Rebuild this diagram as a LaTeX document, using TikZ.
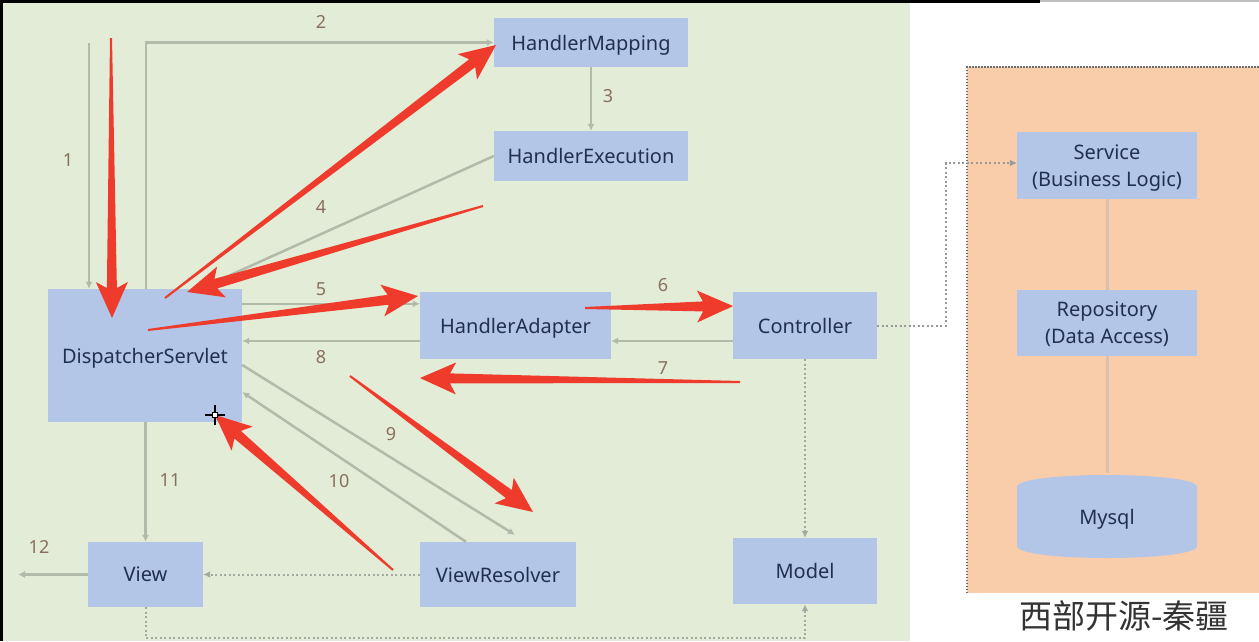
\documentclass[tikz,border=0pt]{standalone}
\usepackage{fontspec}
\setmainfont{Noto Sans}
\newfontfamily\cjk{Noto Sans CJK SC}
\usetikzlibrary{calc,arrows.meta}
\definecolor{bgG}{HTML}{E2ECD7}
\definecolor{boxB}{HTML}{B3C6E7}
\definecolor{txtB}{HTML}{22304F}
\definecolor{connG}{HTML}{B2BAAA}
\definecolor{dotG}{HTML}{A5AAA0}
\definecolor{numC}{HTML}{8A6F5E}
\definecolor{redA}{HTML}{EF3B2C}
\definecolor{orP}{HTML}{F9CCAA}
\definecolor{dotC}{HTML}{6E6E6E}
\definecolor{lineO}{HTML}{D6C2AE}
\tikzset{
  box/.style={fill=boxB, text=txtB, inner sep=0pt, font=\fontsize{20}{27}\selectfont, align=center, text depth=0pt},
  conn/.style={draw=connG, line width=2.5pt, -{Latex[length=7pt,width=7pt]}},
  dotconn/.style={draw=dotG, line width=2pt, dash pattern=on 2pt off 2.5pt, -{Latex[length=7pt,width=7pt]}},
  num/.style={text=numC, font=\fontsize{18}{20}\selectfont, inner sep=0pt},
}
\newcommand\redarrow[2]{%
  \coordinate (rB) at ($(#2)!30pt!(#1)$);
  \coordinate (rW) at ($(#2)!36pt!(#1)$);
  \fill[redA] ($(#1)!1pt!90:(#2)$) -- ($(rB)!5pt!90:(#2)$) -- ($(rW)!16pt!90:(#2)$) -- (#2)
    -- ($(rW)!16pt!-90:(#2)$) -- ($(rB)!5pt!-90:(#2)$) -- ($(#1)!1pt!-90:(#2)$) -- cycle;
}
\begin{document}
\begin{tikzpicture}[x=1pt,y=-1pt]
\useasboundingbox (0,0) rectangle (1259,641);
% backgrounds
\fill[white] (0,0) rectangle (1259,641);
\fill[bgG] (3,3) rectangle (910,641);
\fill[black] (0,0) rectangle (1040,3);
\fill[black] (0,0) rectangle (3,641);
\fill[black!25] (1040,0) rectangle (1259,2);
\fill[orP] (967,67) rectangle (1259,593);
\draw[dotC, line width=2pt, dash pattern=on 1.5pt off 1.5pt] (967,593) -- (967,67) -- (1259,67);

% nodes
\node[box, minimum width=194pt, minimum height=49pt] (hm) at (591,42.5) {HandlerMapping};
\node[box, minimum width=194pt, minimum height=50pt] (he) at (591,156) {HandlerExecution};
\node[box, minimum width=194pt, minimum height=133pt] (ds) at (145,355.5) {DispatcherServlet};
\node[box, minimum width=191pt, minimum height=67pt] (ha) at (515.5,325.5) {HandlerAdapter};
\node[box, minimum width=144pt, minimum height=67pt] (ctrl) at (805,325.5) {Controller};
\node[box, minimum width=115pt, minimum height=65pt] (view) at (145.5,574.5) {View};
\node[box, minimum width=156pt, minimum height=65pt] (vr) at (498,574.5) {ViewResolver};
\node[box, minimum width=144pt, minimum height=66pt] (model) at (805,571) {Model};
\node[box, minimum width=180pt, minimum height=67pt] (svc) at (1107,165.5) {Service\\(Business Logic)};
\node[box, minimum width=180pt, minimum height=66pt] (repo) at (1107,323) {Repository\\(Data Access)};
\fill[boxB] (1017,487) .. controls (1017,471) and (1197,471) .. (1197,487) -- (1197,546)
  .. controls (1197,562) and (1017,562) .. (1017,546) -- cycle;
\node[box, fill=none, minimum width=180pt, minimum height=87pt] (db) at (1107,516.5) {Mysql};

% gray connectors
\coordinate (c1) at (89,43);
\draw[conn, line width=1.8pt] (c1) -- (c1 |- ds.north);
\coordinate (c2) at (146,42.5);
\draw[conn] (ds.north -| c2) -- (c2) -- (hm.west);
\draw[conn, line width=1.5pt] (hm.south) -- (he.north);
\draw[conn] (he.west) -- ([xshift=55pt]ds.north);
\draw[conn] ([yshift=-15pt]ds.north east) coordinate (p5) -- (p5 -| ha.west);
\draw[conn] ([yshift=-15pt]ha.north east) -- ([yshift=-15pt]ctrl.north west);
\draw[conn] ([yshift=-15.5pt]ctrl.west) -- ([yshift=-15.5pt]ha.east);
\draw[conn] ([yshift=-15.5pt]ha.west) coordinate (p8) -- (p8 -| ds.east);
\draw[conn] ([yshift=-9.5pt]ds.east) -- ([xshift=17pt,yshift=7pt]vr.north);
\draw[conn] ([xshift=-32pt]vr.north) -- ([yshift=-36.5pt]ds.east);
\draw[conn] (ds.south -| view.north) -- (view.north);
\coordinate (out12) at (18,574.5);
\draw[conn] (view.west) -- (out12);
\draw[dotconn] (vr.west) -- (view.east);
\draw[dotconn] (ctrl.south) -- (model.north);
\coordinate (bl) at (145.5,638);
\coordinate (br) at (805,638);
\draw[dotconn] (view.south) -- (bl) -- (br) -- (model.south);
\coordinate (k1) at (946,325.5);
\coordinate (k2) at (946,163);
\draw[dotconn, draw=dotC!70] (ctrl.east) -- (k1) -- (k2) -- (k2 -| svc.west);
\draw[lineO, line width=3pt] (svc.south) -- (repo.north);
\draw[lineO, line width=3pt] (repo.south) -- (db.north);

% number labels
\node[num] (n1) at (68,160) {1};
\node[num] (n2) at (321,22) {2};
\node[num] (n3) at (608,96) {3};
\node[num] (n4) at (321,207) {4};
\node[num] (n5) at (321,289) {5};
\node[num] (n6) at (663,285) {6};
\node[num] (n7) at (663,368) {7};
\node[num] (n8) at (321,357) {8};
\node[num] (n9) at (391,434) {9};
\node[num] (n10) at (339,481) {10};
\node[num] (n11) at (170,480) {11};
\node[num] (n12) at (39,547) {12};

% red annotation arrows
\coordinate (r1a) at (111,38);  \coordinate (r1b) at (112,318);
\coordinate (r2a) at (165,298); \coordinate (r2b) at (496,45);
\coordinate (r3a) at (483,206); \coordinate (r3b) at (187,292);
\coordinate (r4a) at (148,330); \coordinate (r4b) at (418,296);
\coordinate (r5a) at (585,308); \coordinate (r5b) at (733,306);
\coordinate (r6a) at (740,382); \coordinate (r6b) at (420,378);
\coordinate (r7a) at (350,376); \coordinate (r7b) at (533,512);
\coordinate (r8a) at (393,570); \coordinate (r8b) at (215,415);
\redarrow{r1a}{r1b}
\redarrow{r2a}{r2b}
\redarrow{r3a}{r3b}
\redarrow{r4a}{r4b}
\redarrow{r5a}{r5b}
\redarrow{r6a}{r6b}
\redarrow{r7a}{r7b}
\redarrow{r8a}{r8b}

% cursor
\coordinate (cur) at (215,415);
\draw[black, line width=1.2pt] ([xshift=-10pt]cur) -- ([xshift=10pt]cur) ([yshift=-10pt]cur) -- ([yshift=10pt]cur);
\draw[black, fill=white, line width=0.8pt] ([shift={(-2.5pt,-2.5pt)}]cur) rectangle ([shift={(2.5pt,2.5pt)}]cur);

% watermark
\node[text=black!80, font=\cjk\fontsize{33}{38}\selectfont, inner sep=0pt] (wm) at (1124,616) {西部开源-秦疆};
\end{tikzpicture}
\end{document}
